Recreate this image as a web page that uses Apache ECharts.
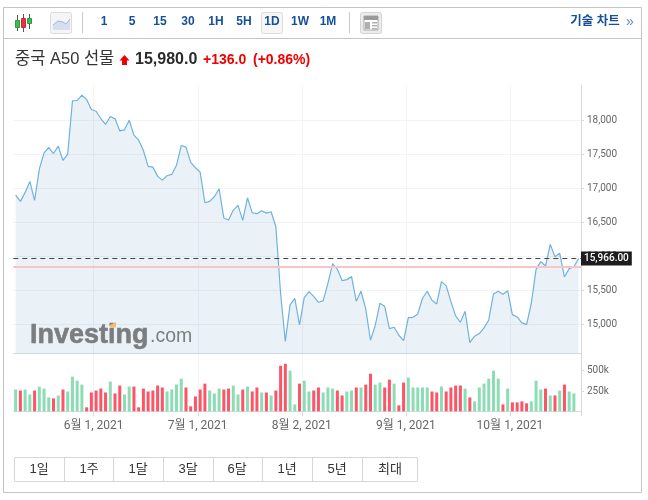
<!DOCTYPE html>
<html lang="ko">
<head>
<meta charset="utf-8">
<title>중국 A50 선물</title>
<script src="https://cdn.jsdelivr.net/npm/echarts@6/dist/echarts.min.js"></script>
<style>
  html, body { margin: 0; padding: 0; background: #fff; }
  #chart { width: 648px; height: 500px; }
</style>
</head>
<body>
<div id="chart"></div>
<script>
// Daily closing prices
const closes = [
  16897, 16805, 16937, 17098, 16819, 17279, 17518, 17596, 17508, 17616,
  17406, 17499, 18281, 18286, 18364, 18300, 18154, 18129, 18022, 17934,
  18051, 18017, 17841, 17856, 17997, 17777, 17704, 17552, 17318, 17308,
  17176, 17117, 17181, 17201, 17337, 17626, 17601, 17377, 17298, 17235,
  16785, 16805, 16873, 16990, 16560, 16531, 16677, 16746, 16526, 16858,
  16638, 16624, 16668, 16633, 16653, 16433, 15455, 14747, 15284, 15382,
  14991, 15392, 15480, 15411, 15323, 15343, 15602, 15890, 15807, 15641,
  15656, 15700, 15338, 15485, 15226, 14766, 14981, 15309, 15265, 14937,
  14957, 14839, 14761, 15098, 15103, 15152, 15382, 15485, 15353, 15299,
  15626, 15568, 15333, 15123, 15030, 15191, 14732, 14825, 14864, 14947,
  15064, 15446, 15485, 15441, 15494, 15142, 15108, 15020, 14996, 15309,
  15807, 15920, 15856, 16174, 15993, 16042, 15695, 15817, 15846, 15966
];

// Daily traded volume, in thousands of contracts
const volumes = [
  268, 256, 268, 207, 256, 305, 280, 171, 159, 195,
  268, 244, 427, 378, 329, 49, 232, 256, 280, 232,
  366, 220, 317, 207, 305, 305, 49, 280, 244, 256,
  317, 293, 244, 268, 329, 402, 293, 61, 183, 268,
  341, 256, 220, 280, 268, 280, 317, 207, 268, 305,
  244, 293, 232, 232, 195, 256, 561, 585, 500, 85,
  341, 378, 244, 256, 293, 232, 293, 280, 256, 195,
  244, 256, 293, 293, 329, 463, 329, 354, 293, 390,
  341, 73, 354, 415, 293, 293, 293, 293, 244, 232,
  305, 244, 293, 317, 317, 280, 171, 122, 293, 341,
  402, 500, 402, 85, 280, 110, 110, 122, 98, 122,
  378, 268, 280, 195, 195, 256, 329, 244, 220, null
];

// 1 = day closed up (red), 0 = day closed down (green)
const volumeUp = [
  0, 1, 0, 0, 1, 0, 0, 0, 1, 0,
  1, 0, 0, 0, 0, 1, 1, 1, 1, 1,
  0, 1, 1, 0, 0, 1, 1, 1, 1, 1,
  1, 1, 0, 0, 0, 0, 1, 1, 1, 1,
  1, 0, 0, 0, 1, 1, 0, 0, 1, 0,
  1, 1, 0, 1, 0, 1, 1, 1, 0, 0,
  1, 0, 0, 1, 1, 0, 0, 0, 1, 1,
  0, 0, 1, 0, 1, 1, 0, 0, 1, 1,
  0, 1, 1, 0, 0, 0, 0, 0, 1, 1,
  0, 1, 1, 1, 1, 0, 1, 0, 0, 0,
  0, 0, 0, 1, 0, 1, 1, 1, 1, 0,
  0, 0, 1, 0, 1, 0, 1, 0, 0, 0
];

// Month labels keyed by the first session of that month
const monthLabels = {
  17: '6월 1, 2021', 39: '7월 1, 2021', 61: '8월 2, 2021',
  83: '9월 1, 2021', 105: '10월 1, 2021'
};

const priceTicks = [15000, 15500, 16000, 16500, 17000, 17500, 18000];
const volumeTicks = [250, 500];
const lastPrice = 15966;
const previousClose = 15844;

const intervalButtons = ['1', '5', '15', '30', '1H', '5H', '1D', '1W', '1M'];
const rangeButtons = ['1일', '1주', '1달', '3달', '6달', '1년', '5년', '최대'];

const categories = closes.map((_, i) => monthLabels[i] || String(i));
const isMonthStart = (i) => monthLabels[i] !== undefined;

const FONT = 'Roboto, "Noto Sans CJK KR", sans-serif';
const UI_FONT = '"Liberation Sans", "Noto Sans CJK KR", sans-serif';
const LINK_BLUE = '#14509a';
const FRAME = '#c4c4c4';
const GRID_LINE = '#f1f3f5';
const AXIS_LINE = '#d5dade';

const text = (x, y, t, font, fill, align) => ({
  type: 'text', silent: true, z: 20,
  style: { x, y, text: t, font, fill, textAlign: align || 'center', textVerticalAlign: 'middle' }
});
const rect = (x, y, w, h, fill, stroke, r) => ({
  type: 'rect', silent: true, z: 20,
  shape: { x, y, width: w, height: h, r: r || 0 },
  style: { fill: fill || 'none', stroke: stroke || 'none', lineWidth: 1 }
});
const seg = (x1, y1, x2, y2, stroke, lineWidth) => ({
  type: 'line', silent: true, z: 20,
  shape: { x1, y1, x2, y2 },
  style: { stroke, lineWidth: lineWidth || 1 }
});
const poly = (points, fill, stroke) => ({
  type: stroke ? 'polyline' : 'polygon', silent: true, z: 20,
  shape: { points },
  style: stroke ? { stroke, fill: 'none', lineWidth: 1 } : { fill }
});

// Page frame, toolbar and header
const chrome = [
  rect(3.5, 7.5, 638, 485, 'none', FRAME),
  seg(3.5, 38.5, 641.5, 38.5, FRAME, 1),

  // candlestick icon
  seg(17.5, 15, 17.5, 31, '#555'), rect(15.5, 20.5, 4, 7, '#35c04f', '#2a9a40'),
  seg(23.5, 14, 23.5, 32, '#555'), rect(21.5, 18.5, 4, 9, '#ee2f3f', '#c92a38'),
  seg(29.5, 14, 29.5, 29, '#555'), rect(27.5, 18.5, 4, 5, '#35c04f', '#2a9a40'),

  // area chart icon
  rect(50.5, 12.5, 21, 21, '#f4f5f6', '#dcdcdc', 2),
  poly([[53, 25], [58, 21], [63, 22], [66, 24], [70, 19], [70, 30], [53, 30]], '#d5dff0'),
  poly([[53, 25], [58, 21], [63, 22], [66, 24], [70, 19]], null, '#9db8d8'),

  seg(82.5, 12, 82.5, 33, '#c8c8c8'),
  rect(261.5, 12.5, 21, 21, '#f6f6f6', '#dcdcdc', 2),
  seg(349.5, 12, 349.5, 33, '#c8c8c8'),

  // layout icon
  rect(360.5, 12.5, 21, 21, '#ececec', '#d4d4d4', 2),
  rect(364, 16, 14, 14, '#fff', '#a8a8a8'),
  rect(364, 16, 14, 4, '#9a9a9a'),
  rect(365, 22, 5, 7, '#b0b0b0'),
  rect(372, 22, 5, 1.5, '#b0b0b0'),
  rect(372, 25, 5, 1.5, '#b0b0b0'),
  rect(372, 28, 5, 1.5, '#b0b0b0'),

  text(595, 21.5, '기술 차트', 'bold 12.5px ' + UI_FONT, LINK_BLUE),
  text(630, 22.5, '»', '14px ' + UI_FONT, '#5b86bd'),

  text(15, 59.5, '중국 A50 선물', '16.5px ' + UI_FONT, '#333', 'left'),
  poly([[124.5, 55], [129.5, 60.5], [127, 60.5], [127, 65], [122, 65], [122, 60.5], [119.5, 60.5]], '#f00000'),
  text(135, 60, '15,980.0', 'bold 16px ' + UI_FONT, '#2a2a2a', 'left'),
  text(203, 60, '+136.0', 'bold 14px ' + UI_FONT, '#f00000', 'left'),
  text(253, 60, '(+0.86%)', 'bold 14px ' + UI_FONT, '#f00000', 'left'),

  // watermark
  {
    type: 'text', silent: true, z: 20,
    style: {
      x: 30, y: 336, text: 'Investing', font: 'bold 27px ' + UI_FONT,
      fill: '#7b7e81', stroke: '#7b7e81', lineWidth: 0.6,
      textAlign: 'left', textVerticalAlign: 'middle'
    }
  },
  text(150, 337, '.com', '19.5px ' + UI_FONT, '#7b7e81', 'left'),
  poly([[110, 325], [116, 322], [116, 327.5], [110, 327.5]], '#f4bd6e'),

  // range selector
  rect(14.5, 457.5, 403, 24, '#fff', '#d6d6d6')
];

intervalButtons.forEach((label, i) => {
  chrome.push(text(104 + i * 28, 22, label, 'bold 12px ' + UI_FONT, LINK_BLUE));
});
[64, 113, 163, 213, 262, 312, 362].forEach((x) => {
  chrome.push(seg(x + 0.5, 457.5, x + 0.5, 481.5, '#d6d6d6'));
});
[39, 89, 138, 188, 237, 287, 337, 390].forEach((x, i) => {
  chrome.push(text(x, 469.5, rangeButtons[i], '13px ' + UI_FONT, '#333'));
});

const sharedX = {
  type: 'category',
  data: categories,
  boundaryGap: true,
  axisLine: { show: true, lineStyle: { color: AXIS_LINE } },
  splitLine: { show: true, interval: (i) => isMonthStart(i), lineStyle: { color: GRID_LINE } }
};

const chart = echarts.init(document.getElementById('chart'), null, { renderer: 'canvas' });
chart.setOption({
  animation: false,
  backgroundColor: '#fff',
  graphic: chrome,
  grid: [
    { left: 13.3, right: 67, top: 85, height: 268.3 },
    { left: 13.3, right: 67, top: 353.5, height: 57.8 }
  ],
  xAxis: [
    Object.assign({}, sharedX, {
      gridIndex: 0,
      axisTick: { show: false },
      axisLabel: { show: false }
    }),
    Object.assign({}, sharedX, {
      gridIndex: 1,
      axisTick: { show: true, length: 5, interval: (i) => isMonthStart(i), lineStyle: { color: AXIS_LINE } },
      axisLabel: {
        interval: (i) => isMonthStart(i),
        formatter: (v) => v,
        color: '#666',
        fontFamily: FONT,
        fontSize: 12,
        margin: 9,
        padding: [0, 5, 0, 0]
      }
    })
  ],
  yAxis: [
    {
      type: 'value',
      gridIndex: 0,
      position: 'right',
      min: 14574,
      max: 18514,
      axisLine: { show: true, lineStyle: { color: AXIS_LINE } },
      axisTick: { show: true, length: 3, customValues: priceTicks, lineStyle: { color: AXIS_LINE } },
      axisLabel: {
        customValues: priceTicks,
        formatter: (v) => v.toLocaleString('en-US'),
        color: '#666',
        fontFamily: FONT,
        fontSize: 10,
        margin: 6
      },
      splitLine: { show: true, lineStyle: { color: GRID_LINE } }
    },
    {
      type: 'value',
      gridIndex: 1,
      position: 'right',
      min: 0,
      max: 712,
      axisLine: { show: true, lineStyle: { color: AXIS_LINE } },
      axisTick: { show: true, length: 3, customValues: volumeTicks, lineStyle: { color: AXIS_LINE } },
      axisLabel: {
        customValues: volumeTicks,
        formatter: (v) => v + 'k',
        color: '#666',
        fontFamily: FONT,
        fontSize: 10,
        margin: 6
      },
      splitLine: { show: false }
    }
  ],
  series: [
    {
      type: 'line',
      name: '중국 A50 선물',
      xAxisIndex: 0,
      yAxisIndex: 0,
      data: closes,
      showSymbol: false,
      smooth: false,
      silent: true,
      lineStyle: { color: '#6fb3dc', width: 1.2 },
      areaStyle: { color: 'rgba(124,170,205,0.214)' },
      markLine: {
        silent: true,
        animation: false,
        symbol: 'none',
        precision: 2,
        data: [
          {
            yAxis: previousClose,
            lineStyle: { color: '#f9c3c8', type: 'solid', width: 2 },
            label: { show: false }
          },
          {
            yAxis: lastPrice,
            lineStyle: { color: '#444', type: [5, 4], width: 1 },
            label: {
              show: true,
              position: 'end',
              distance: 0,
              formatter: () => lastPrice.toLocaleString('en-US', { minimumFractionDigits: 2 }),
              color: '#fff',
              backgroundColor: '#1d1d1d',
              fontFamily: FONT,
              fontWeight: 500,
              fontSize: 10,
              padding: [2, 3, 2, 3]
            }
          }
        ]
      }
    },
    {
      type: 'bar',
      name: '거래량',
      xAxisIndex: 1,
      yAxisIndex: 1,
      barWidth: 3,
      silent: true,
      data: volumes.map((v, i) => ({
        value: v,
        itemStyle: { color: volumeUp[i] ? '#fb5567' : '#8cdcb4' }
      }))
    }
  ]
});
</script>
</body>
</html>
